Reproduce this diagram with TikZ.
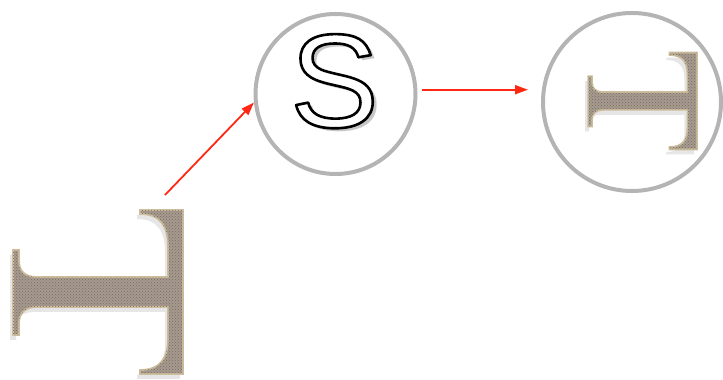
\documentclass[tikz,border=0pt]{standalone}
\usepackage{fontspec}
\usepackage{xcolor}
\definecolor{stonefill}{RGB}{166,154,143}
\definecolor{stonedot}{RGB}{120,108,98}
\definecolor{stoneedge}{RGB}{205,190,158}
\definecolor{ringgray}{RGB}{180,180,180}
\definecolor{flowred}{RGB}{255,40,20}
\newfontfamily\glyphfont{Liberation Sans}
\usetikzlibrary{arrows.meta,shadows,patterns}

% white letter with a black outline (fill+stroke render mode)
\newcommand{\hollow}[1]{\textcolor{white}{\special{pdf:literal direct 0 G 2.6 w 1 j 2 Tr}#1\special{pdf:literal direct 0 Tr}}}

% the letter T lying on its side, bar on the right, origin at bar's right centre
\newcommand{\tshape}{(0,82) -- (0,-82) -- (-43,-82) -- (-43,-78)
  .. controls (-21,-78) and (-15,-64) .. (-15,-46) -- (-15,-15) -- (-146,-15)
  .. controls (-158,-15) and (-164,-21) .. (-164,-31) -- (-164,-43) -- (-170,-43)
  -- (-170,42) -- (-164,42) -- (-164,31)
  .. controls (-164,21) and (-158,15) .. (-146,15) -- (-15,15) -- (-15,44)
  .. controls (-15,64) and (-21,78) .. (-43,78) -- (-43,82) -- cycle}

\begin{document}
\begin{tikzpicture}[x=1pt, y=1pt,
  ring/.style={circle, draw=ringgray, line width=4pt, inner sep=0pt},
  flow/.style={draw=flowred, line width=1.8pt, -{Triangle[length=13pt,width=9pt]}},
  stone/.style={fill=stonefill, draw=stoneedge, line width=1.8pt,
    drop shadow={shadow xshift=-3pt, shadow yshift=-5pt, opacity=0.2}},
  grain/.style={pattern=crosshatch dots, pattern color=stonedot},
  bigglyph/.style={font=\glyphfont\fontsize{133}{133}\selectfont, inner sep=0pt, anchor=base}]
  \useasboundingbox (0,0) rectangle (723,380);

  % Circles
  \node[ring, minimum size=160pt] (scirc) at (335.5,286) {};
  \node[ring, minimum size=178pt] (tcirc) at (632,278) {};

  % Big T
  \begin{scope}[shift={(183,88)}]
    \draw[stone] \tshape;
    \fill[grain] \tshape;
  \end{scope}

  % Small T in the right circle
  \begin{scope}[shift={(697,279)}, xscale=0.64, yscale=0.59]
    \draw[stone] \tshape;
    \fill[grain] \tshape;
  \end{scope}

  % S with its shadow
  \node[bigglyph, text=black!22] (sshade) at (338.5,249) {S};
  \node[bigglyph] (sglyph) at (334.5,253) {\hollow{S}};

  % Arrows
  \coordinate (tbar) at (165,185);
  \draw[flow] (tbar) -- (scirc.186);
  \draw[flow] ([xshift=4.5pt]scirc.3.5) -- ([xshift=-13pt]scirc.3.5 -| tcirc.west);
\end{tikzpicture}
\end{document}
